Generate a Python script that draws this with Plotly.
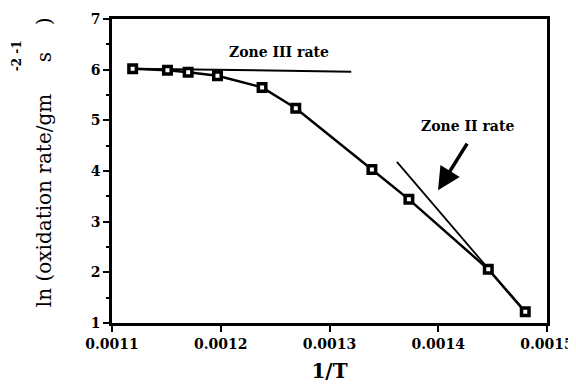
import plotly.graph_objects as go

inv_T = [0.001119, 0.001151, 0.001170, 0.001197, 0.001238, 0.001269, 0.001339, 0.001373, 0.001446, 0.001480]
ln_rate = [6.02, 5.99, 5.95, 5.88, 5.65, 5.24, 4.03, 3.44, 2.06, 1.22]

zone3_x = [0.001119, 0.001320]
zone3_y = [6.02, 5.96]
zone2_x = [0.001362, 0.001480]
zone2_y = [4.18, 1.22]

x_ticks = [0.0011, 0.0012, 0.0013, 0.0014, 0.0015]
x_tick_labels = ["0.0011", "0.0012", "0.0013", "0.0014", "0.0015"]
y_ticks = [1, 2, 3, 4, 5, 6, 7]

FONT = "DejaVu Serif"

fig = go.Figure()
fig.add_trace(go.Scatter(x=zone3_x, y=zone3_y, mode="lines",
                         line=dict(color="black", width=2), showlegend=False))
fig.add_trace(go.Scatter(x=zone2_x, y=zone2_y, mode="lines",
                         line=dict(color="black", width=1.8), showlegend=False))
fig.add_trace(go.Scatter(x=inv_T, y=ln_rate, mode="lines+markers",
                         line=dict(color="black", width=2.5),
                         marker=dict(symbol="square", size=7.5, color="white",
                                     line=dict(color="black", width=3.5)),
                         showlegend=False))

fig.add_annotation(x=0.001254, y=6.35, text="<b>Zone III rate</b>", showarrow=False,
                   font=dict(family=FONT, size=14, color="black"))
fig.add_annotation(x=0.001427, y=4.88, text="<b>Zone II rate</b>", showarrow=False,
                   font=dict(family=FONT, size=14, color="black"))
fig.add_annotation(x=0.0013998, y=3.62, ax=0.0014274, ay=4.57, xref="x", yref="y",
                   axref="x", ayref="y", text="", showarrow=True,
                   arrowhead=2, arrowsize=1.3, arrowwidth=3.5, arrowcolor="black")

ytitle_font = dict(family=FONT, size=20, color="black")
fig.add_annotation(xref="paper", yref="paper", x=-0.156, y=0.401, xanchor="center", yanchor="middle",
                   text="ln (oxidation rate/gm", textangle=-90, showarrow=False, font=ytitle_font)
fig.add_annotation(xref="paper", yref="paper", x=-0.156, y=0.875, xanchor="center", yanchor="middle",
                   text="s", textangle=-90, showarrow=False, font=ytitle_font)
fig.add_annotation(xref="paper", yref="paper", x=-0.156, y=0.993, xanchor="center", yanchor="middle",
                   text=")", textangle=-90, showarrow=False, font=ytitle_font)
fig.add_annotation(xref="paper", yref="paper", x=-0.218, y=0.878, xanchor="center", yanchor="middle",
                   text="<b>-2 -1</b>", textangle=-90, showarrow=False,
                   font=dict(family=FONT, size=12, color="black"))

axis_common = dict(showline=True, linecolor="black", linewidth=2.5, mirror=True,
                   ticks="outside", tickcolor="black", tickwidth=2, ticklen=6,
                   showgrid=False, zeroline=False, automargin=False,
                   tickfont=dict(family=FONT, size=14, color="black"))

fig.update_xaxes(range=[0.0011, 0.0015], tickvals=x_ticks, ticktext=["<b>%s</b>" % t for t in x_tick_labels],
                 title=dict(text="<b>1/T</b>", font=dict(family=FONT, size=20, color="black"), standoff=14),
                 **axis_common)
fig.update_yaxes(range=[1, 7], tickvals=y_ticks, ticktext=["<b>%d</b>" % v for v in y_ticks],
                 minor=dict(ticks="outside", tickvals=[1.5, 2.5, 3.5, 4.5, 5.5, 6.5],
                            ticklen=3, tickwidth=2, tickcolor="black"),
                 **axis_common)

# page body has an 8px margin, so the figure is 8px smaller and the plot margins shifted by 8px
fig.update_layout(width=568, height=377, plot_bgcolor="white", paper_bgcolor="white",
                  margin=dict(l=104, r=29, t=11, b=62))

fig.write_html("out.html")
